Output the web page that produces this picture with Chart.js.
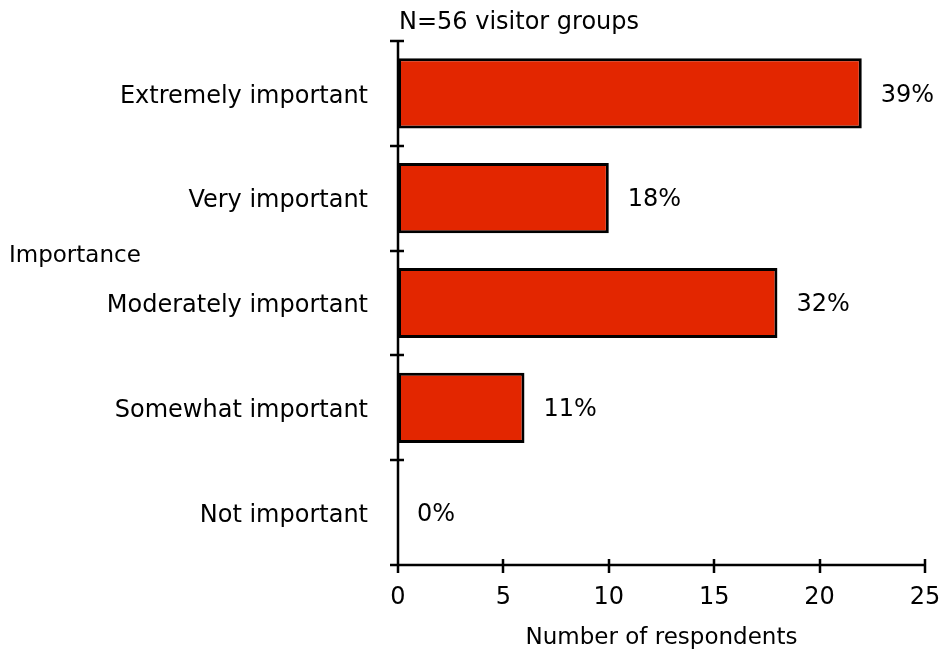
<!DOCTYPE html>
<html>
<head>
<meta charset="utf-8">
<script src="https://cdn.jsdelivr.net/npm/chart.js@4/dist/chart.umd.min.js"></script>
<style>
  html, body { margin: 0; padding: 0; background: #fff; }
  #wrap { width: 943px; height: 654px; }
</style>
</head>
<body>
<div id="wrap"><canvas id="c" width="943" height="654"></canvas></div>
<script>
// Importance ratings, number of visitor groups per answer
const categories = ["Extremely important", "Very important", "Moderately important", "Somewhat important", "Not important"];
const respondents = [22, 10, 18, 6, 0];
const percentLabels = ["39%", "18%", "32%", "11%", "0%"];
const xTicks = [0, 5, 10, 15, 20, 25];
const sampleNote = "N=56 visitor groups";
const yTitle = "Importance";
const xTitle = "Number of respondents";

const FONT = "DejaVu Sans";
const FS = 24;
const FS_TITLE = 23;

// Tick marks that cross the axis lines, plus side texts
const decorations = {
  id: "decorations",
  afterDraw(chart) {
    const ctx = chart.ctx;
    const x = chart.scales.x, y = chart.scales.y;
    const area = chart.chartArea;
    ctx.save();
    ctx.strokeStyle = "#000";
    ctx.lineWidth = 2.5;
    ctx.beginPath();
    // axis lines
    ctx.moveTo(area.left, area.top);
    ctx.lineTo(area.left, area.bottom);
    ctx.lineTo(area.right, area.bottom);
    // category boundary ticks
    for (let i = 0; i <= categories.length; i++) {
      const py = Math.round(y.getPixelForValue(i - 0.5));
      ctx.moveTo(area.left - 8, py);
      ctx.lineTo(area.left + 6, py);
    }
    // value ticks
    xTicks.forEach(v => {
      const px = Math.round(x.getPixelForValue(v));
      ctx.moveTo(px, area.bottom - 6);
      ctx.lineTo(px, area.bottom + 8);
    });
    ctx.stroke();

    ctx.fillStyle = "#000";
    ctx.textBaseline = "middle";
    ctx.textAlign = "left";
    ctx.font = FS + "px '" + FONT + "'";
    ctx.fillText(sampleNote, area.left + 1, 23);
    ctx.font = FS_TITLE + "px '" + FONT + "'";
    ctx.fillText(yTitle, 9, 256);

    // percentage labels next to bar ends
    ctx.font = FS + "px '" + FONT + "'";
    const meta = chart.getDatasetMeta(0);
    meta.data.forEach((bar, i) => {
      ctx.fillText(percentLabels[i], bar.x + 19, bar.y + 2);
    });
    ctx.restore();
  }
};

new Chart(document.getElementById("c"), {
  type: "bar",
  data: {
    labels: categories,
    datasets: [{
      data: respondents,
      backgroundColor: "#E32600",
      borderColor: "#000",
      borderWidth: 3,
      borderSkipped: false,
      barPercentage: 0.67,
      categoryPercentage: 1.0
    }]
  },
  options: {
    indexAxis: "y",
    responsive: false,
    animation: false,
    devicePixelRatio: 1,
    layout: { padding: { top: 41, right: 18, left: 0, bottom: 0 } },
    plugins: {
      legend: { display: false },
      tooltip: { enabled: false },
      title: { display: false }
    },
    scales: {
      x: {
        type: "linear",
        min: 0,
        max: 25,
        afterBuildTicks(scale) { scale.ticks = xTicks.map(v => ({ value: v })); },
        afterFit(scale) { scale.height = 89; scale.paddingLeft = 0; scale.paddingRight = 0; },
        grid: { display: false, drawTicks: false },
        border: { display: false },
        ticks: {
          color: "#000",
          font: { family: FONT, size: FS },
          padding: 18,
          maxRotation: 0
        },
        title: {
          display: true,
          text: xTitle,
          color: "#000",
          font: { family: FONT, size: FS_TITLE },
          padding: { top: 0, bottom: 2 }
        }
      },
      y: {
        afterFit(scale) { scale.width = 398; scale.paddingTop = 0; scale.paddingBottom = 0; },
        grid: { display: false, drawTicks: false },
        border: { display: false },
        ticks: {
          color: "#000",
          font: { family: FONT, size: FS },
          padding: 30,
          labelOffset: 3
        }
      }
    }
  },
  plugins: [decorations]
});
</script>
</body>
</html>
